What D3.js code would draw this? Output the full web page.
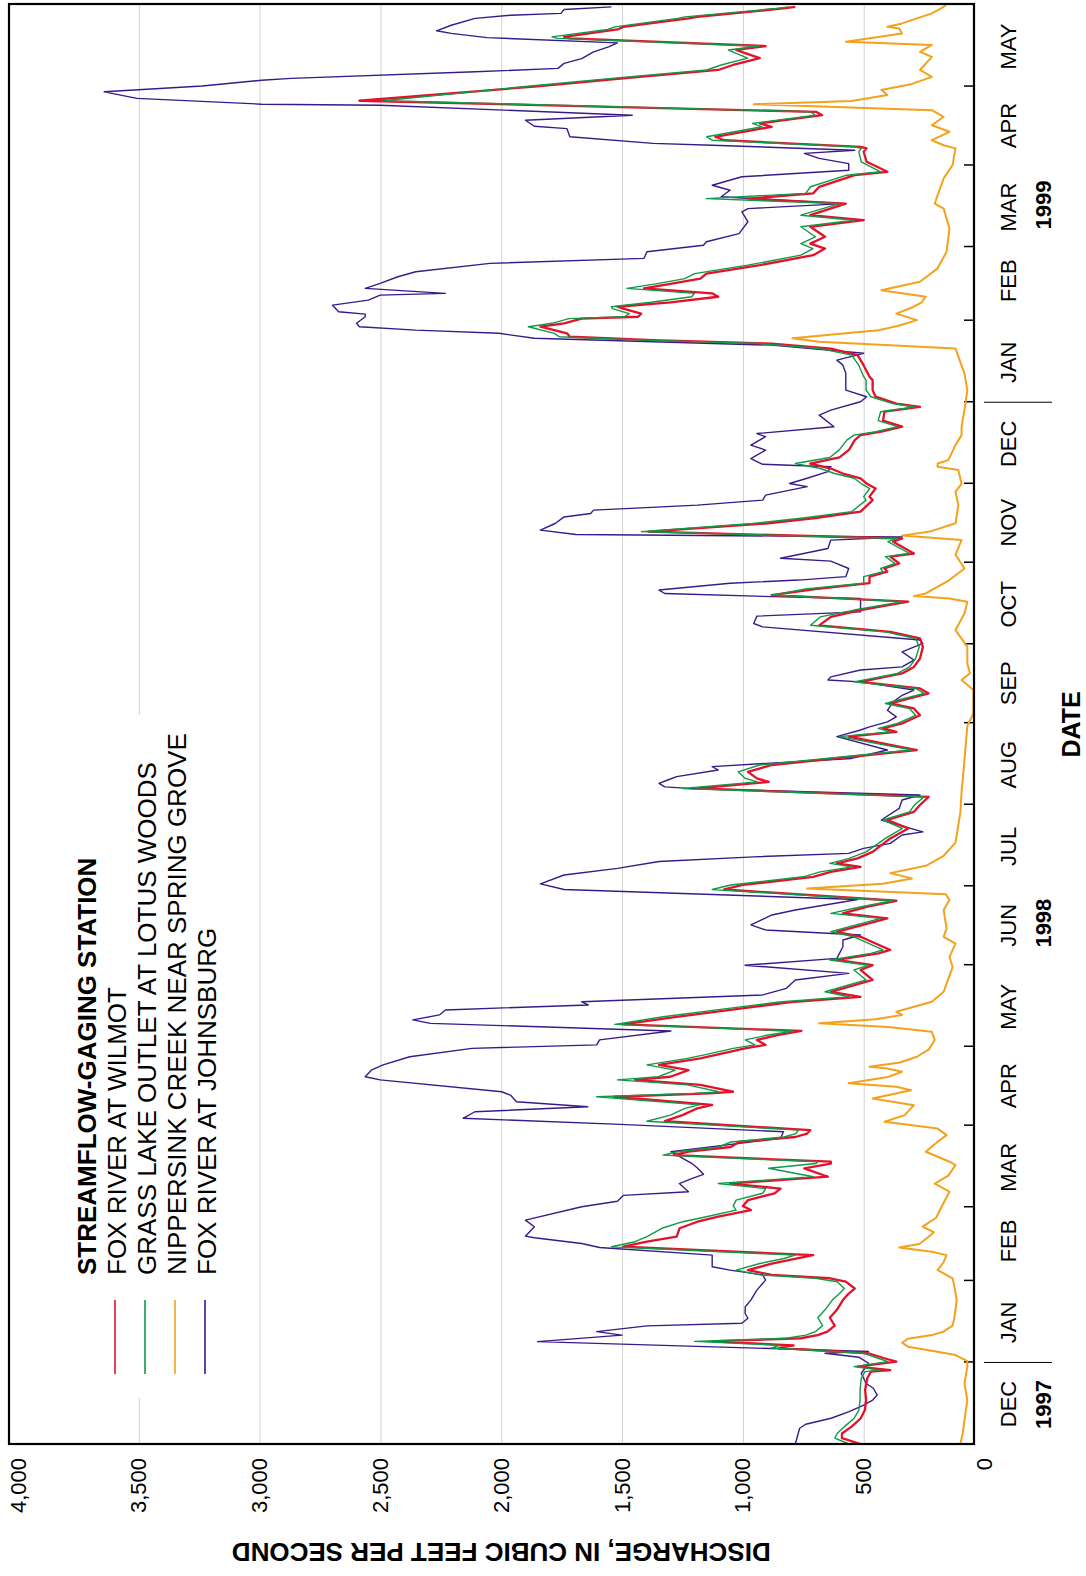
<!DOCTYPE html>
<html>
<head>
<meta charset="utf-8">
<script src="https://cdn.jsdelivr.net/npm/d3@7"></script>
<style>
  body { margin: 0; background: #fff; }
  svg { display: block; font-family: "Liberation Sans", Arial, sans-serif; }
</style>
</head>
<body>
<script>
// day = days since 1 Dec 1997, value = discharge in cubic feet per second
const wilmot = [[0,513],[2.2,590],[4,590],[6.6,550],[9.7,513],[12.9,495],[16.7,490],[20.5,494],[25,485],[27.5,470],[28.1,390],[29.4,525],[31.3,365],[32.6,415],[34.5,480],[36.5,850],[37.5,790],[39,1127],[40.2,760],[41.4,690],[42.7,650],[45,620],[48,640],[51,611],[54.7,586],[57.2,562],[59.1,537],[61.7,574],[63,640],[64.3,881],[66.1,979],[68.6,880],[70.5,780],[71.8,709],[75,1495],[76.9,1397],[78.8,1274],[82,1262],[84.5,1188],[86.4,1102],[88.9,967],[90.5,1000],[92.7,979],[95.3,869],[97.1,844],[99,1053],[101.6,648],[104.8,746],[106.6,636],[107.3,636],[109.8,1286],[111.1,1225],[112.9,1050],[114.8,1016],[116.7,783],[118,734],[119.3,721],[122.7,1323],[125,1250],[127.6,1188],[128.9,1127],[132,1532],[133.3,1139],[133.9,1041],[136.5,1176],[138.4,1446],[139.6,1300],[142.1,1225],[144.1,1347],[146.6,1176],[148.1,1102],[150.4,991],[151.7,906],[153.6,942],[155.4,857],[157,758],[159.5,1495],[162.4,1274],[165.6,1004],[168,800],[170,513],[171.9,636],[176.4,463],[180.2,513],[182,463],[184,611],[186.5,439],[187.8,390],[192.8,513],[194.7,611],[199.8,402],[201.7,586],[204.2,488],[206.5,365],[210.8,1077],[212.5,1000],[215.6,709],[217.5,636],[219.4,513],[220.7,611],[222.6,525],[225.1,463],[230.2,390],[234,316],[237.2,402],[240.3,292],[242.9,267],[246,231],[249.2,1188],[251.7,893],[253,942],[255.5,979],[258.1,881],[263.8,280],[268.9,562],[270.7,365],[272,420],[273.9,341],[277,267],[279.6,292],[281.5,390],[282.7,341],[285.3,231],[287.2,267],[289.7,513],[292.9,341],[295.4,292],[298.6,267],[303,255],[306.2,267],[308.7,390],[311.2,684],[314.4,636],[317,513],[320.2,316],[322.7,881],[325,700],[327.2,476],[329.7,476],[331.6,402],[332.8,414],[334.7,353],[337.3,390],[338.5,292],[343,378],[344.2,341],[346.8,1390],[349.9,906],[352,700],[354.4,513],[358.8,463],[360.1,476],[363.2,451],[365.1,488],[367.1,513],[368.9,586],[370.8,636],[372.7,721],[375,600],[378,560],[381.6,537],[383.5,513],[384.8,427],[386.7,341],[389,420],[392.4,414],[394.2,267],[395.5,365],[398.1,451],[400.6,463],[404.4,463],[405.7,476],[410,500],[413.9,525],[416.4,636],[418.3,881],[419.6,1372],[420.9,1716],[422.2,1728],[424.7,1838],[426,1740],[427.8,1667],[428.5,1434],[429.7,1421],[431.6,1495],[432.3,1519],[434,1300],[436.1,1102],[437.4,1127],[439.3,1409],[441,1300],[443,1176],[444.9,1151],[448.1,930],[451.9,709],[454.4,660],[456.3,721],[458.9,660],[462.7,721],[465.2,500],[467.1,721],[471.5,574],[473.4,979],[475.4,709],[477.9,684],[482.3,537],[483.6,402],[487.4,488],[491.2,500],[492.5,488],[493.1,513],[495.6,1077],[496.9,1114],[500.7,881],[502,930],[505.1,672],[506.4,697],[510.6,2587],[516,1863],[519.1,1495],[522.3,1102],[524.2,1041],[526.8,930],[528.7,991],[529.9,1028],[531.4,906],[534.3,1716],[534.9,1740],[537.7,1519],[538.7,1495],[541.9,1225],[542.5,1188],[545.7,832],[546.3,783]];

const grassLake = [[0,560],[2.2,620],[4,610],[6.6,580],[9.7,540],[12.9,520],[16.7,515],[20.5,515],[25,510],[27.5,495],[28.1,430],[29.4,540],[31.3,400],[32.6,440],[34.5,500],[36.5,880],[37.5,850],[39,1200],[40.2,820],[41.4,740],[42.7,700],[45,670],[48,690],[51,660],[54.7,630],[57.2,600],[59.1,580],[61.7,610],[63,700],[64.3,930],[66.1,1028],[68.6,930],[70.5,830],[71.8,783],[75,1544],[76.9,1446],[78.8,1397],[82,1335],[84.5,1249],[86.4,1151],[88.9,1028],[90.5,1040],[92.7,1028],[95.3,918],[97.1,906],[99,1102],[101.6,709],[104.8,893],[106.6,697],[107.3,690],[109.8,1330],[111.1,1270],[112.9,1100],[114.8,1050],[116.7,830],[118,780],[119.3,770],[122.7,1397],[125,1300],[127.6,1240],[128.9,1180],[132,1605],[133.3,1200],[133.9,1100],[136.5,1230],[138.4,1519],[139.6,1350],[142.1,1280],[144.1,1397],[146.6,1230],[148.1,1150],[150.4,1040],[151.7,950],[153.6,990],[155.4,900],[157,790],[159.5,1530],[162.4,1330],[165.6,1060],[168,850],[170,560],[171.9,660],[176.4,490],[180.2,540],[182,480],[184,640],[186.5,470],[187.8,420],[192.8,540],[194.7,636],[199.8,430],[201.7,636],[204.2,510],[206.5,380],[210.8,1127],[212.5,1050],[215.6,750],[217.5,680],[219.4,550],[220.7,640],[222.6,560],[225.1,490],[230.2,410],[234,340],[237.2,420],[240.3,310],[242.9,290],[246,250],[249.2,1249],[251.7,940],[253,990],[255.5,1020],[258.1,930],[263.8,300],[268.9,600],[270.7,390],[272,440],[273.9,360],[277,285],[279.6,310],[281.5,410],[282.7,360],[285.3,250],[287.2,285],[289.7,540],[292.9,360],[295.4,310],[298.6,285],[303,270],[306.2,285],[308.7,410],[311.2,720],[314.4,680],[317,540],[320.2,340],[322.7,881],[325,740],[327.2,500],[329.7,500],[331.6,420],[332.8,430],[334.7,370],[337.3,410],[338.5,310],[343,400],[344.2,360],[346.8,1420],[349.9,960],[352,750],[354.4,550],[358.8,490],[360.1,500],[363.2,475],[365.1,510],[367.1,540],[368.9,620],[370.8,680],[372.7,783],[375,640],[378,600],[381.6,570],[383.5,540],[384.8,450],[386.7,360],[389,440],[392.4,430],[394.2,290],[395.5,380],[398.1,470],[400.6,490],[404.4,490],[405.7,500],[410,520],[413.9,550],[416.4,680],[418.3,930],[419.6,1420],[420.9,1760],[422.2,1780],[424.7,1888],[426,1790],[427.8,1720],[428.5,1490],[429.7,1470],[431.6,1540],[432.3,1544],[434,1380],[436.1,1212],[437.4,1200],[439.3,1480],[441,1360],[443,1240],[444.9,1200],[448.1,980],[451.9,760],[454.4,710],[456.3,760],[458.9,700],[462.7,760],[465.2,540],[467.1,760],[471.5,600],[473.4,1151],[475.4,740],[477.9,720],[482.3,570],[483.6,430],[487.4,510],[491.2,520],[492.5,510],[493.1,540],[495.6,1127],[496.9,1150],[500.7,920],[502,960],[505.1,700],[506.4,720],[510.6,2489],[516,1900],[519.1,1544],[522.3,1150],[524.2,1090],[526.8,980],[528.7,1030],[529.9,1060],[531.4,930],[534.3,1767],[534.9,1790],[537.7,1560],[538.7,1530],[541.9,1270],[542.5,1240],[545.7,860],[546.3,810]];

const nippersink = [[0,100],[4,90],[9,83],[16.7,71],[23,83],[29.4,71],[31.5,71],[33.8,120],[35.1,194],[37,317],[38.5,341],[40,317],[41.4,218],[42.7,170],[45,132],[47.8,125],[54.7,115],[60,125],[63,132],[66.1,194],[69,170],[71.8,157],[73.1,218],[74.7,353],[76,270],[78.8,231],[80.5,210],[82.6,256],[86,200],[91.5,170],[95.9,145],[99,206],[102,150],[106,120],[107.3,145],[111.1,243],[114.9,194],[117.4,157],[119.9,194],[122.5,414],[125,330],[128.8,292],[131.3,463],[134.5,304],[135.8,365],[137.1,562],[139.5,400],[141.5,341],[142.7,402],[143.4,476],[145,350],[147.2,280],[150,230],[153.6,206],[156.7,218],[158.5,400],[159.9,684],[161.5,450],[163.1,341],[164.3,365],[168.1,218],[171.9,169],[175,157],[181.3,132],[185.1,145],[190.2,120],[192.8,169],[195.9,157],[203,169],[206.8,145],[209,160],[211.2,734],[213,420],[215,300],[217,390],[219.8,243],[223.6,169],[228.6,120],[240,100],[247.6,95],[260,83],[273,71],[277.7,46],[286.6,46],[290.4,95],[293,60],[296.7,71],[303,71],[309.4,120],[315.7,83],[320.2,71],[321.4,145],[322.3,292],[323.3,243],[328.4,145],[332.8,83],[338,120],[343.6,95],[345.3,341],[347,220],[350,120],[356.9,108],[362,120],[365,95],[370.2,108],[371.5,194],[372.7,194],[374,150],[379.7,120],[383.5,95],[386.7,95],[393,83],[400.6,71],[407,83],[410,95],[416.4,120],[419,684],[420.3,795],[423.4,439],[425,360],[427.2,280],[429.7,365],[432,300],[434,260],[436.1,243],[438.6,427],[441.8,267],[446.9,194],[453.2,157],[462,145],[469.6,169],[471.5,206],[474.7,194],[481.1,169],[486.2,132],[492.5,120],[493.7,169],[495.6,218],[498.8,145],[501.3,218],[504.5,169],[507,218],[509.3,955],[510.5,550],[512.8,402],[514.7,427],[517,300],[519.7,218],[522.3,267],[527.3,218],[529.2,267],[531.8,218],[533,574],[536.2,341],[538.1,353],[538.7,402],[540,341],[543.8,218],[546.3,169],[547,160]];

const johnsburg = [[0,783],[6,765],[7.5,740],[9.8,635],[12.3,560],[14.8,500],[16.7,463],[18.6,444],[21.2,460],[23,490],[26.9,510],[30.7,480],[33,520],[34.5,660],[35.2,480],[38.9,1850],[41.4,1500],[42.7,1605],[44.9,1397],[45.9,1004],[47.8,979],[49.7,991],[52.2,990],[54.7,967],[58.5,942],[62.3,906],[64.3,918],[66.1,1053],[67.4,1127],[71.8,1127],[74.7,1593],[76.2,1667],[78.4,1863],[79,1900],[82.6,1863],[85.1,1900],[90.2,1667],[92.3,1519],[94.5,1495],[95.9,1225],[99,1263],[100.9,1212],[102.5,1163],[104.9,1188],[106.7,1212],[111.1,1298],[116.2,844],[118.7,832],[121.5,1507],[123.8,2158],[126.3,2109],[128.2,1642],[130.1,1937],[132.6,1961],[133.9,1998],[138.4,2501],[139.6,2563],[142.1,2538],[144.1,2489],[147.2,2379],[150.4,2121],[151.7,1605],[153.6,1593],[157,1298],[159.9,2293],[161.2,2366],[163.1,2256],[165,2231],[166.9,1640],[168.1,1667],[170.7,918],[173.2,820],[176.4,783],[178.9,562],[182,991],[184.6,611],[189,586],[191.6,586],[193.5,513],[195.4,906],[197.3,967],[201.1,880],[203,783],[207,525],[210.8,1740],[212.9,1838],[216.3,1740],[218.8,1519],[221.4,1347],[223.2,955],[224.5,562],[226.4,500],[228.3,390],[231.5,341],[232.7,255],[237.2,427],[241.6,353],[244.8,341],[246.7,267],[249.2,1225],[249.8,1323],[251.1,1347],[252.4,1311],[253.7,1274],[256.2,1102],[257.5,1127],[260.6,550],[263.8,402],[268.9,611],[271.4,513],[272.6,476],[274.5,402],[276.4,365],[278.9,402],[282.1,378],[284.6,341],[286.6,292],[289.7,513],[290.4,648],[291.6,636],[294.2,513],[295.4,341],[298,292],[301.1,341],[304.3,255],[305.6,267],[310.6,918],[311.9,955],[314.7,942],[316.3,513],[321.4,513],[322.1,881],[323.3,1323],[324.6,1347],[327.2,1053],[328.4,770],[329.7,574],[332.8,562],[335.6,636],[336.7,844],[340.4,648],[343.6,636],[344.8,341],[345.7,1691],[347.4,1838],[349.9,1777],[352.4,1740],[353.7,1630],[355,1618],[356.9,1188],[358.8,918],[360.7,906],[363.9,734],[365.1,807],[367.1,734],[369.6,648],[371.5,636],[372.4,918],[374.6,967],[377.8,906],[379.7,967],[382.9,906],[384.1,942],[386.7,623],[391.1,684],[393,636],[396.2,513],[398.1,488],[400.6,574],[407,574],[410.1,586],[412,611],[414.6,500],[417.7,881],[419,1372],[420.3,1863],[422.2,2010],[423.4,2354],[424.7,2587],[426,2599],[428.5,2563],[429.5,2563],[430.4,2673],[432.9,2698],[434.8,2550],[436.7,2501],[437.4,2231],[439.3,2563],[441.2,2501],[443.7,2428],[445.6,2354],[448.8,2047],[450.7,1409],[453.2,1397],[455.7,1163],[457,1151],[460.1,1016],[464.6,979],[468.4,1004],[469.6,979],[471.5,586],[474.1,1090],[476.6,1053],[478.5,1127],[481.7,1004],[484.2,562],[486.7,562],[488.7,684],[490.6,746],[491.8,537],[493.7,1127],[494.4,1372],[496.9,1716],[500,1728],[500.9,1863],[503.2,1900],[505.1,1458],[508.9,2501],[509.3,2992],[511.5,3508],[514,3643],[516.2,3238],[518.4,2992],[519.1,2870],[521.6,2108],[522.9,1765],[524.8,1740],[526.6,1667],[529.2,1618],[531.1,1556],[532.6,1519],[534.6,2059],[536.2,2207],[537.2,2268],[539.3,2207],[541.9,2108],[543.1,1961],[543.8,1753],[545.3,1740],[546.3,1544]];

const valueTicks = [0, 500, 1000, 1500, 2000, 2500, 3000, 3500, 4000];
const monthNames = ["DEC","JAN","FEB","MAR","APR","MAY","JUN","JUL","AUG","SEP","OCT","NOV","DEC","JAN","FEB","MAR","APR","MAY"];
const yearLabels = [["1997", "1997-12-16"], ["1998", "1998-06-17"], ["1999", "1999-03-17"]];
const yearBreaks = ["1998-01-01", "1999-01-01"];
const stations = [
  {name: "FOX RIVER AT WILMOT", data: wilmot, color: "#e5102a", width: 2.3},
  {name: "GRASS LAKE OUTLET AT LOTUS WOODS", data: grassLake, color: "#0f9a48", width: 1.4},
  {name: "NIPPERSINK CREEK NEAR SPRING GROVE", data: nippersink, color: "#f4a11c", width: 2},
  {name: "FOX RIVER AT JOHNSBURG", data: johnsburg, color: "#3a1a8a", width: 1.4}
];

const W = 1086, H = 1576;
const start = Date.UTC(1997, 11, 1);
const toDate = d => new Date(start + d * 864e5);

const svg = d3.select("body").append("svg")
  .attr("width", W)
  .attr("height", H);

// chart is laid out landscape, then turned a quarter turn to the left
const g = svg.append("g")
  .attr("transform", `translate(0,${H}) rotate(-90)`);

const plotL = 132, plotR = 1572, plotT = 9, plotB = 974;

const x = d3.scaleUtc()
  .domain([new Date(start), new Date(Date.UTC(1999, 5, 1))])
  .range([plotL, 1571]);
const y = d3.scaleLinear()
  .domain([0, 4000])
  .range([984.5, 18]);

// grid
g.append("g")
  .attr("transform", `translate(${plotL},0)`)
  .call(d3.axisLeft(y).tickValues(valueTicks.slice(1, -1)).tickSize(-(plotR - plotL)).tickFormat(""))
  .call(a => a.select(".domain").remove())
  .call(a => a.selectAll("line").attr("stroke", "#d2d2d2").attr("stroke-width", 1));

// legend box hides the grid behind it
g.append("rect")
  .attr("x", 178).attr("y", plotT).attr("width", 683).attr("height", 225)
  .attr("fill", "#fff");

// value labels
g.append("g")
  .attr("transform", "translate(118,0)")
  .call(d3.axisLeft(y).tickValues(valueTicks).tickSize(0).tickPadding(0).tickFormat(d3.format(",")))
  .call(a => a.select(".domain").remove())
  .call(a => a.selectAll("text").attr("font-size", 22).attr("font-family", "Liberation Sans, Arial, sans-serif").attr("fill", "#000"));

g.append("text")
  .attr("transform", `translate(33,${y(2000)}) rotate(-90)`)
  .attr("text-anchor", "middle")
  .attr("font-size", 26).attr("font-weight", "bold")
  .text("DISCHARGE, IN CUBIC FEET PER SECOND");

// month ticks inside the frame
const monthStarts = d3.utcMonth.range(new Date(Date.UTC(1998, 0, 1)), new Date(Date.UTC(1999, 4, 2)));
g.append("g")
  .attr("transform", `translate(0,${plotB})`)
  .call(d3.axisBottom(x).tickValues(monthStarts).tickSizeInner(-10).tickSizeOuter(0).tickFormat(""))
  .call(a => a.select(".domain").remove())
  .call(a => a.selectAll("line").attr("stroke", "#000").attr("stroke-width", 1.5));

const monthMids = d3.utcMonth.range(new Date(start), new Date(Date.UTC(1999, 5, 1)))
  .map(m => new Date(+m + 15 * 864e5));
g.append("g")
  .attr("transform", `translate(0,${plotB})`)
  .call(d3.axisBottom(x).tickValues(monthMids).tickSize(0).tickPadding(26).tickFormat((d, i) => monthNames[i]))
  .call(a => a.select(".domain").remove())
  .call(a => a.selectAll("text").attr("font-size", 22).attr("font-family", "Liberation Sans, Arial, sans-serif").attr("fill", "#000"));

g.selectAll(".yearBreak")
  .data(yearBreaks)
  .enter().append("line")
  .attr("x1", d => x(new Date(d))).attr("x2", d => x(new Date(d)))
  .attr("y1", 984).attr("y2", 1052)
  .attr("stroke", "#000").attr("stroke-width", 1);

g.selectAll(".year")
  .data(yearLabels)
  .enter().append("text")
  .attr("x", d => x(new Date(d[1])))
  .attr("y", 1051)
  .attr("text-anchor", "middle")
  .attr("font-size", 22).attr("font-weight", "bold")
  .text(d => d[0]);

g.append("text")
  .attr("x", (plotL + 1571) / 2).attr("y", 1080)
  .attr("text-anchor", "middle")
  .attr("font-size", 25).attr("font-weight", "bold")
  .text("DATE");

// series
const line = d3.line()
  .x(d => x(toDate(d[0])))
  .y(d => y(d[1]));

const order = [2, 3, 0, 1];
g.selectAll(".series")
  .data(order.map(i => stations[i]))
  .enter().append("path")
  .attr("fill", "none")
  .attr("stroke", d => d.color)
  .attr("stroke-width", d => d.width)
  .attr("stroke-linejoin", "round")
  .attr("d", d => line(d.data));

// frame
g.append("rect")
  .attr("x", plotL).attr("y", plotT)
  .attr("width", plotR - plotL).attr("height", plotB - plotT)
  .attr("fill", "none").attr("stroke", "#000").attr("stroke-width", 2.2);

// legend
const legend = g.append("g");
legend.append("text")
  .attr("x", 301).attr("y", 96)
  .attr("font-size", 26).attr("font-weight", "bold")
  .text("STREAMFLOW-GAGING STATION");
const rows = [125.5, 155.5, 185.5, 215.5];
stations.forEach((s, i) => {
  legend.append("line")
    .attr("x1", 202).attr("x2", 276)
    .attr("y1", rows[i] - 10.5).attr("y2", rows[i] - 10.5)
    .attr("stroke", s.color).attr("stroke-width", 1.6);
  legend.append("text")
    .attr("x", 301).attr("y", rows[i])
    .attr("font-size", 26)
    .text(s.name);
});
</script>
</body>
</html>
